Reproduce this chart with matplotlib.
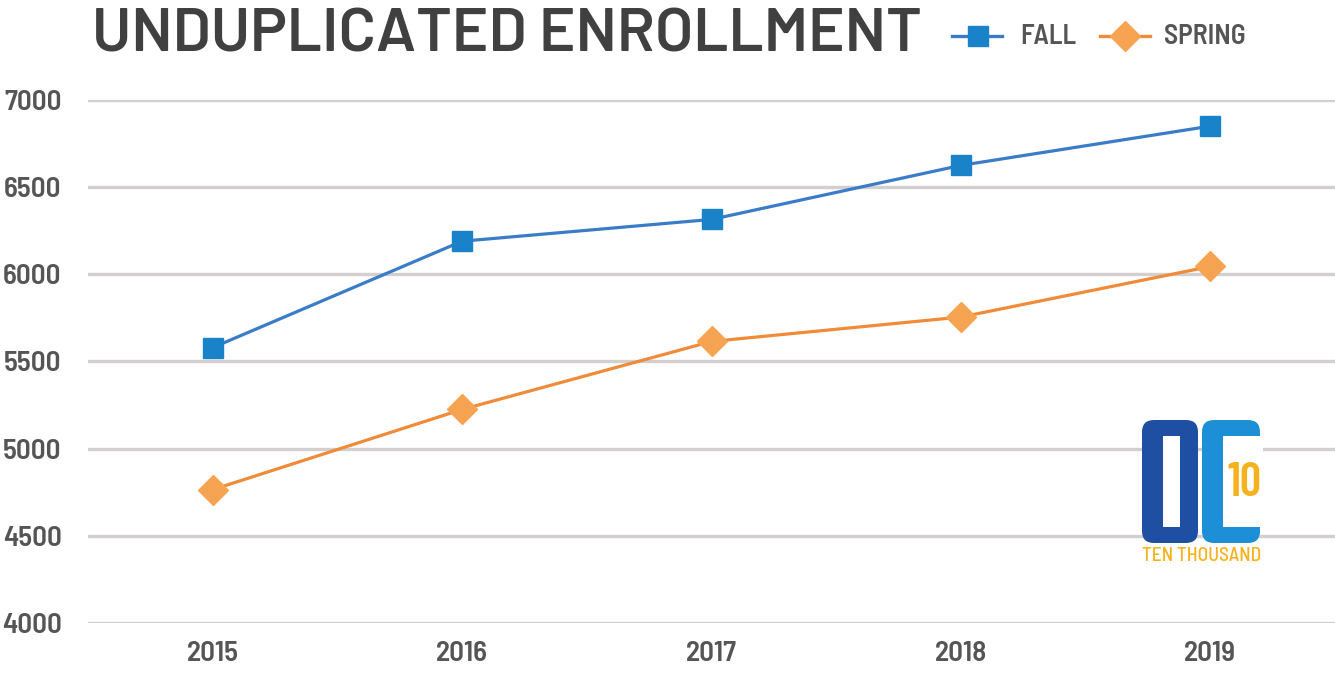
import matplotlib.pyplot as plt
from matplotlib.patches import FancyBboxPatch, Rectangle
from matplotlib.lines import Line2D

# Data
years = ['2015', '2016', '2017', '2018', '2019']
fall = [5580, 6190, 6315, 6625, 6850]
spring = [4765, 5225, 5615, 5755, 6045]
y_ticks = [4000, 4500, 5000, 5500, 6000, 6500, 7000]

FONT = ['Barlow Semi Condensed', 'Roboto Condensed', 'DejaVu Sans']
plt.rcParams['font.family'] = FONT

fig = plt.figure(figsize=(13.35, 6.76), dpi=100)
ax = fig.add_axes([88 / 1335, 53 / 676, 1 - 88 / 1335, 523 / 676])

x = list(range(len(years)))
ax.plot(x, fall, color='#3b7cc8', lw=2.3, marker='s', ms=15,
        mfc='#1a82c8', mec='#1a82c8', clip_on=False, zorder=3)
ax.plot(x, spring, color='#ef8b39', lw=2.3, marker='D', ms=15,
        mfc='#f6a352', mec='#f6a352', clip_on=False, zorder=3)

ax.set_xlim(-0.5, 4.5)
ax.set_ylim(4000, 7000)
ax.set_yticks(y_ticks)
ax.set_xticks(x)
ax.set_xticklabels(years)
ax.grid(axis='y', color='#d3cfcf', lw=2.4)
ax.set_axisbelow(True)
for s in ax.spines.values():
    s.set_visible(False)
ax.tick_params(length=0, labelsize=21, labelcolor='#555555')
ax.tick_params(axis='y', pad=19)
ax.tick_params(axis='x', pad=13)
for lab in ax.get_xticklabels() + ax.get_yticklabels():
    lab.set_fontweight('semibold')

# Title and legend
fig.text(92 / 1335, 1 - 36 / 676, 'UNDUPLICATED ENROLLMENT', fontsize=44.5,
         family=['Barlow', 'DejaVu Sans'], fontweight='semibold',
         color='#404040', va='center', ha='left')

ov = fig.add_axes([0, 0, 1, 1], facecolor='none')
ov.set_xlim(0, 1335)
ov.set_ylim(676, 0)
ov.axis('off')

ov.add_line(Line2D([952, 1002], [36, 36], color='#3b7cc8', lw=2.4))
ov.plot([978], [36], marker='s', ms=15, color='#1a82c8')
ov.text(1020, 36, 'FALL', fontsize=20, fontweight='semibold', color='#555555',
        va='center', ha='left')
ov.add_line(Line2D([1100, 1150], [36, 36], color='#ef8b39', lw=2.4))
ov.plot([1125], [36], marker='D', ms=15, color='#f6a352')
ov.text(1164, 36, 'SPRING', fontsize=20, fontweight='semibold', color='#555555',
        va='center', ha='left')

# Logo
ov.add_patch(FancyBboxPatch((1148, 426), 44, 111, boxstyle='round,pad=6,rounding_size=12',
                            fc='#1f4fa3', ec='none'))
ov.add_patch(Rectangle((1163, 436), 17, 91, fc='white', ec='none'))
ov.add_patch(FancyBboxPatch((1208, 426), 46, 111, boxstyle='round,pad=6,rounding_size=12',
                            fc='#1d8fd6', ec='none'))
ov.add_patch(Rectangle((1223, 436), 40, 91, fc='white', ec='none'))
ov.text(1245, 484, '10', fontsize=34, family=['Barlow Condensed', 'DejaVu Sans'],
        fontweight='semibold', color='#f6b21c', ha='center', va='center')
ov.text(1202, 556, 'TEN THOUSAND', fontsize=14, fontweight='medium', color='#f6b21c',
        ha='center', va='center')

fig.savefig('out.png', dpi=100, facecolor='white')
